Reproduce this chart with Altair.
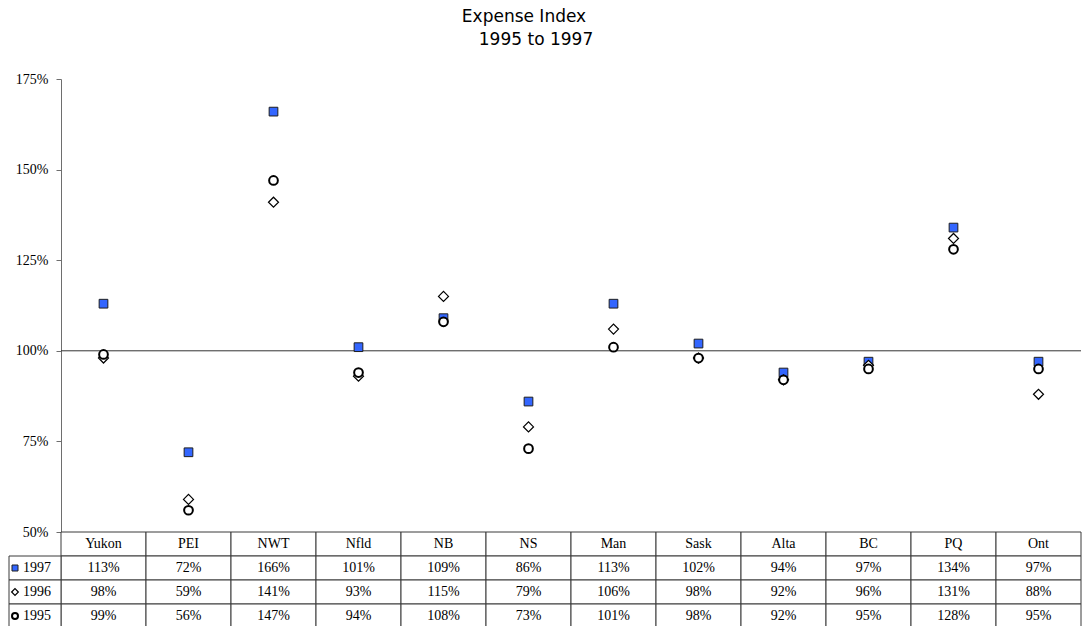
import altair as alt
import pandas as pd

# Provinces / territories in table order
provinces = ["Yukon", "PEI", "NWT", "Nfld", "NB", "NS", "Man", "Sask", "Alta", "BC", "PQ", "Ont"]
years = ["1997", "1996", "1995"]

# Expense index by year, in percent
idx_1997 = [113, 72, 166, 101, 109, 86, 113, 102, 94, 97, 134, 97]
idx_1996 = [98, 59, 141, 93, 115, 79, 106, 98, 92, 96, 131, 88]
idx_1995 = [99, 56, 147, 94, 108, 73, 101, 98, 92, 95, 128, 95]

y_ticks = [0.50, 0.75, 1.00, 1.25, 1.50, 1.75]
reference_level = [1.00]
title_lines = ["Expense Index", "1995 to 1997"]

series = {"1997": idx_1997, "1996": idx_1996, "1995": idx_1995}

# Long table used for both the markers and the data table
records = []
for yr in years:
    for prov, v in zip(provinces, series[yr]):
        records.append({"province": prov, "year": yr, "value": v / 100.0, "label": f"{v}%"})
df = pd.DataFrame(records)

rows = ["header"] + years
table_records = [{"province": p, "row": "header", "label": p} for p in provinces]
table_records += [{"province": r["province"], "row": r["year"], "label": r["label"]} for r in records]
table_df = pd.DataFrame(table_records)
legend_df = pd.DataFrame({"row": years, "year": years})

PLOT_W = 1020
PLOT_H = 453
TABLE_H = 96
SERIF = "Liberation Serif"
LINE = "#3a3a3a"

marker_style = {
    "1997": dict(shape="square", fill="#3366FF", stroke="#1e1e1e", strokeWidth=1),
    "1996": dict(shape="diamond", fill="white", stroke="black", strokeWidth=1.2),
    "1995": dict(shape="circle", fill="white", stroke="black", strokeWidth=2),
}
plot_size = {"1997": 76, "1996": 100, "1995": 76}
key_size = {"1997": 36, "1996": 45, "1995": 36}

x_enc = alt.X(
    "province:N", sort=provinces,
    scale=alt.Scale(domain=provinces, paddingInner=0, paddingOuter=0), axis=None,
)
y_enc = alt.Y(
    "value:Q",
    scale=alt.Scale(domain=[0.5, 1.75], nice=False, zero=False),
    axis=alt.Axis(
        values=y_ticks, format=".0%", title=None, grid=False,
        domainColor="#6e6e6e", tickColor="#6e6e6e", tickSize=5,
        labelFont=SERIF, labelFontSize=14, labelColor="black",
        labelPadding=8, labelFlush=False,
    ),
)

ref_rule = alt.Chart(pd.DataFrame({"ref": reference_level})).mark_rule(
    color="#333333", strokeWidth=1
).encode(y=alt.Y("ref:Q"))

marker_layers = [
    alt.Chart(df).transform_filter(alt.datum.year == yr).mark_point(
        filled=True, opacity=1, size=plot_size[yr], **marker_style[yr]
    ).encode(x=x_enc, y=y_enc)
    for yr in years
]

# Two-line heading above the plot
heading = [
    alt.Chart(pd.DataFrame({"t": [line]})).mark_text(
        font="DejaVu Sans", fontSize=17, color="black", align="center", baseline="alphabetic"
    ).encode(x=alt.value(xc), y=alt.value(yb), text="t:N")
    for line, xc, yb in zip(title_lines, [463, 475], [-57, -34])
]

top = alt.layer(ref_rule, *marker_layers, *heading).properties(width=PLOT_W, height=PLOT_H)

# Data table under the plot
row_enc = alt.Y("row:N", sort=rows, scale=alt.Scale(domain=rows, paddingInner=0, paddingOuter=0), axis=None)

cells = alt.Chart(table_df).mark_rect(fill="white", stroke=LINE, strokeWidth=1).encode(x=x_enc, y=row_enc)
cell_text = alt.Chart(table_df).mark_text(font=SERIF, fontSize=14, color="black").encode(
    x=x_enc, y=row_enc, text="label:N"
)

key_cells = alt.Chart(legend_df).mark_rect(fill="white", stroke=LINE, strokeWidth=1).encode(
    x=alt.value(-52), x2=alt.value(0), y=row_enc
)
key_symbols = [
    alt.Chart(legend_df).transform_filter(alt.datum.year == yr).mark_point(
        filled=True, opacity=1, size=key_size[yr], **marker_style[yr]
    ).encode(x=alt.value(-46), y=row_enc)
    for yr in years
]
key_text = alt.Chart(legend_df).mark_text(font=SERIF, fontSize=14, color="black", align="left").encode(
    x=alt.value(-38), y=row_enc, text="year:N"
)

bottom = alt.layer(cells, cell_text, key_cells, *key_symbols, key_text).properties(
    width=PLOT_W, height=TABLE_H
)

chart = alt.vconcat(top, bottom, spacing=0, bounds="flush").properties(
    padding={"left": 8, "top": 8, "right": 0, "bottom": 0},
).configure_view(stroke=None)

chart.save("out.html", embed_options={"renderer": "svg", "actions": False})
